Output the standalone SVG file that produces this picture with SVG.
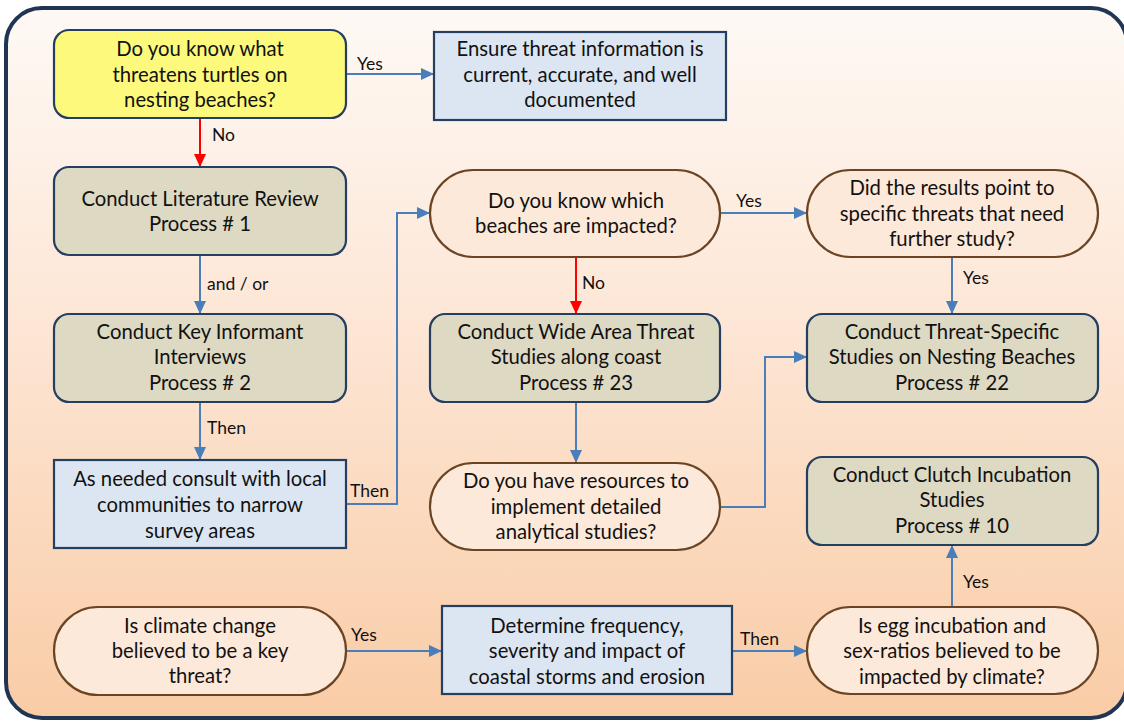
<svg xmlns="http://www.w3.org/2000/svg" width="1124" height="722" viewBox="0 0 1124 722">
  <defs>
    <linearGradient id="bg" x1="0" y1="0" x2="0" y2="1">
      <stop offset="0" stop-color="#fef9f5"/>
      <stop offset="0.45" stop-color="#fde6d5"/>
      <stop offset="1" stop-color="#f9cca6"/>
    </linearGradient>
    <marker id="arrBlue" markerUnits="userSpaceOnUse" markerWidth="14" markerHeight="12" refX="13" refY="6" orient="auto">
      <path d="M0,0 L13,6 L0,12 Z" fill="#4a7ebb"/>
    </marker>
    <marker id="arrRed" markerUnits="userSpaceOnUse" markerWidth="14" markerHeight="12" refX="13" refY="6" orient="auto">
      <path d="M0,0 L13,6 L0,12 Z" fill="#ff0000"/>
    </marker>
    <style>
      .txt { font-family: Lato, "Liberation Sans", sans-serif; font-size: 20.3px; fill: #111; text-anchor: middle; }
      .lbl { font-family: Lato, "Liberation Sans", sans-serif; font-size: 17.5px; fill: #111; }
      .proc { fill: #ddd9c3; stroke: #243f60; stroke-width: 2.2; }
      .info { fill: #dce6f2; stroke: #243f60; stroke-width: 2.2; }
      .ques { fill: #fde9d9; stroke: #6b4424; stroke-width: 2.2; }
      .start { fill: #fdf97c; stroke: #243f60; stroke-width: 2.2; }
      .blue { fill: none; stroke: #4a7ebb; stroke-width: 2; marker-end: url(#arrBlue); }
      .red { fill: none; stroke: #ff0000; stroke-width: 2; marker-end: url(#arrRed); }
    </style>
  </defs>

  <!-- outer frame (right edge runs just past the canvas) -->
  <rect x="6" y="8" width="1121" height="710" rx="36" fill="url(#bg)" stroke="#1f3552" stroke-width="4"/>

  <!-- connectors -->
  <g id="connectors">
    <path class="blue" d="M346,74 H434"/>
    <path class="red" d="M200,118 V167"/>
    <path class="blue" d="M200,255 V314"/>
    <path class="blue" d="M200,402 V460"/>
    <path class="blue" d="M346,504 H397 V213 H430"/>
    <path class="blue" d="M720,213 H807"/>
    <path class="red" d="M576,257 V314"/>
    <path class="blue" d="M952,257 V314"/>
    <path class="blue" d="M576,402 V463"/>
    <path class="blue" d="M720,507 H765 V357 H807"/>
    <path class="blue" d="M346,651 H442"/>
    <path class="blue" d="M732,651 H807"/>
    <path class="blue" d="M952,607 V545"/>
    <text class="lbl" x="357" y="70">Yes</text>
    <text class="lbl" x="212" y="141">No</text>
    <text class="lbl" x="207" y="290">and / or</text>
    <text class="lbl" x="207" y="434">Then</text>
    <text class="lbl" x="350" y="497">Then</text>
    <text class="lbl" x="351" y="641">Yes</text>
    <text class="lbl" x="736" y="207">Yes</text>
    <text class="lbl" x="582" y="289">No</text>
    <text class="lbl" x="963" y="284">Yes</text>
    <text class="lbl" x="740" y="645">Then</text>
    <text class="lbl" x="963" y="588">Yes</text>
  </g>

  <!-- left column -->
  <g id="q-threats">
    <rect class="start" x="54" y="30" width="292" height="88" rx="15"/>
    <text class="txt" x="200" y="56">Do you know what</text>
    <text class="txt" x="200" y="82">threatens turtles on</text>
    <text class="txt" x="200" y="107">nesting beaches?</text>
  </g>
  <g id="literature-review">
    <rect class="proc" x="54" y="167" width="292" height="88" rx="15"/>
    <text class="txt" x="200" y="206">Conduct Literature Review</text>
    <text class="txt" x="200" y="231">Process # 1</text>
  </g>
  <g id="key-informant">
    <rect class="proc" x="54" y="314" width="292" height="88" rx="15"/>
    <text class="txt" x="200" y="339">Conduct Key Informant</text>
    <text class="txt" x="200" y="364">Interviews</text>
    <text class="txt" x="200" y="390">Process # 2</text>
  </g>
  <g id="consult-communities">
    <rect class="info" x="54" y="460" width="292" height="88"/>
    <text class="txt" x="200" y="486">As needed consult with local</text>
    <text class="txt" x="200" y="512">communities to narrow</text>
    <text class="txt" x="200" y="538">survey areas</text>
  </g>
  <g id="q-climate">
    <rect class="ques" x="54" y="607" width="292" height="88" rx="44"/>
    <text class="txt" x="200" y="633">Is climate change</text>
    <text class="txt" x="200" y="658">believed to be a key</text>
    <text class="txt" x="200" y="683">threat?</text>
  </g>

  <!-- middle column -->
  <g id="ensure-info">
    <rect class="info" x="434" y="32" width="292" height="88"/>
    <text class="txt" x="580" y="56">Ensure threat information is</text>
    <text class="txt" x="580" y="82">current, accurate, and well</text>
    <text class="txt" x="580" y="107">documented</text>
  </g>
  <g id="q-beaches">
    <rect class="ques" x="430" y="170" width="290" height="87" rx="43.5"/>
    <text class="txt" x="576" y="208">Do you know which</text>
    <text class="txt" x="576" y="233">beaches are impacted?</text>
  </g>
  <g id="wide-area">
    <rect class="proc" x="430" y="314" width="290" height="88" rx="15"/>
    <text class="txt" x="576" y="339">Conduct Wide Area Threat</text>
    <text class="txt" x="576" y="364">Studies along coast</text>
    <text class="txt" x="576" y="390">Process # 23</text>
  </g>
  <g id="q-resources">
    <rect class="ques" x="430" y="463" width="290" height="87" rx="43.5"/>
    <text class="txt" x="576" y="488">Do you have resources to</text>
    <text class="txt" x="576" y="514">implement detailed</text>
    <text class="txt" x="576" y="539">analytical studies?</text>
  </g>
  <g id="storms">
    <rect class="info" x="442" y="606" width="290" height="88"/>
    <text class="txt" x="587" y="633">Determine frequency,</text>
    <text class="txt" x="587" y="658">severity and impact of</text>
    <text class="txt" x="587" y="684">coastal storms and erosion</text>
  </g>

  <!-- right column -->
  <g id="q-results">
    <rect class="ques" x="807" y="170" width="291" height="87" rx="43.5"/>
    <text class="txt" x="952" y="195">Did the results point to</text>
    <text class="txt" x="952" y="221">specific threats that need</text>
    <text class="txt" x="952" y="246">further study?</text>
  </g>
  <g id="threat-specific">
    <rect class="proc" x="807" y="314" width="291" height="88" rx="15"/>
    <text class="txt" x="952" y="339">Conduct Threat-Specific</text>
    <text class="txt" x="952" y="364">Studies on Nesting Beaches</text>
    <text class="txt" x="952" y="390">Process # 22</text>
  </g>
  <g id="clutch-incubation">
    <rect class="proc" x="807" y="457" width="291" height="88" rx="15"/>
    <text class="txt" x="952" y="482">Conduct Clutch Incubation</text>
    <text class="txt" x="952" y="507">Studies</text>
    <text class="txt" x="952" y="533">Process # 10</text>
  </g>
  <g id="q-egg">
    <rect class="ques" x="807" y="607" width="291" height="87" rx="43.5"/>
    <text class="txt" x="952" y="633">Is egg incubation and</text>
    <text class="txt" x="952" y="658">sex-ratios believed to be</text>
    <text class="txt" x="952" y="684">impacted by climate?</text>
  </g>
</svg>
